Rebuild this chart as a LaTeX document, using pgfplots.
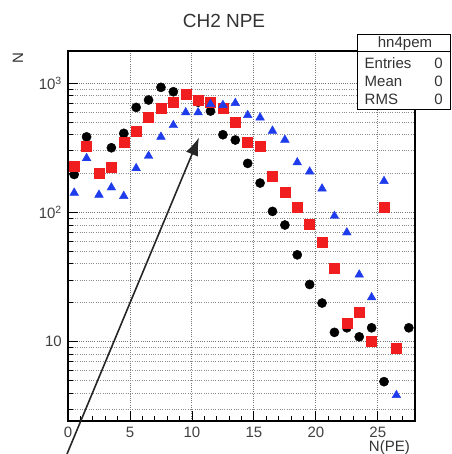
\documentclass[border=0pt]{standalone}
\usepackage{fontspec}
\setmainfont{Liberation Sans}
\usepackage{pgfplots}
\pgfplotsset{compat=1.18}
\usetikzlibrary{arrows.meta}
\definecolor{rred}{RGB}{240,30,30}
\definecolor{rblue}{RGB}{30,60,235}
\definecolor{gridc}{RGB}{120,120,120}
\begin{document}
\fontsize{15}{18}\selectfont
\begin{tikzpicture}[x=1pt,y=1pt]
\useasboundingbox (0,0) rectangle (451,454);
\begin{axis}[
  at={(68pt,33pt)}, anchor=south west,
  scale only axis, width=347pt, height=370pt,
  ymode=log, log basis y=10,
  xmin=0, xmax=28, ymin=2.43, ymax=1780,
  clip=false,
  axis line style={line width=1.1pt, black},
  xtick={0,5,10,15,20,25},
  xticklabels={0,5,10,15,20,25},
  minor xtick={1,2,3,4,6,7,8,9,11,12,13,14,16,17,18,19,21,22,23,24,26,27},
  ytick={10,100,1000},
  yticklabels={10,10\textsuperscript{2},10\textsuperscript{3}},
  minor ytick={3,4,5,6,7,8,9,20,30,40,50,60,70,80,90,200,300,400,500,600,700,800,900},
  xtick pos=left, ytick pos=left,
  tick align=inside,
  major tick length=10pt, minor tick length=5pt,
  tick style={black, line width=0.8pt},
  xmajorgrids, ymajorgrids, yminorgrids,
  major grid style={gridc, line width=0.9pt, dash pattern=on 1pt off 1.2pt},
  minor grid style={gridc!85, line width=0.8pt, dash pattern=on 1pt off 1.3pt},
  xticklabel style={font=\fontsize{15}{15}\selectfont, text=black!75, yshift=-1pt},
  yticklabel style={font=\fontsize{15}{15}\selectfont, text=black!75, xshift=-1pt},
  /pgf/number format/assume math mode=true,
]
\addplot[only marks, mark=*, mark size=4.6pt, mark options={draw=black, fill=black}] coordinates {
(0.5,197) (1.5,385) (3.5,317) (4.5,410) (5.5,651) (6.5,743) (7.5,931) (8.5,861)
(9.5,820) (10.5,715) (11.5,610) (12.5,400) (13.5,364) (14.5,240) (15.5,169)
(16.5,102) (17.5,80) (18.5,47) (19.5,27.7) (20.5,19.9) (21.5,11.8) (22.5,12.8)
(23.5,10.9) (24.5,12.8) (25.5,4.9) (27.5,12.8)
};
\addplot[only marks, mark=square*, mark size=5pt, mark options={draw=rred, fill=rred}] coordinates {
(0.5,229) (1.5,327) (2.5,203) (3.5,223) (4.5,352) (5.5,429) (6.5,545) (7.5,647)
(8.5,713) (9.5,826) (10.5,743) (11.5,713) (12.5,640) (13.5,504) (14.5,349)
(15.5,327) (16.5,191) (17.5,144) (18.5,110) (19.5,80.7) (20.5,58.5) (21.5,37)
(22.5,13.9) (23.5,17) (24.5,10) (25.5,110) (26.5,8.9)
};
\addplot[only marks, mark=triangle*, mark size=5pt, mark options={draw=rblue, fill=rblue}] coordinates {
(0.5,142) (1.5,263) (2.5,137) (3.5,156) (4.5,134) (5.5,220) (6.5,274) (7.5,385)
(8.5,474) (9.5,595) (10.5,595) (11.5,690) (12.5,678) (13.5,703) (14.5,567)
(15.5,543) (16.5,429) (17.5,365) (18.5,244) (19.5,207) (20.5,153) (21.5,94)
(22.5,70) (23.5,33) (24.5,22) (25.5,175) (26.5,3.85)
};
\draw[-{Latex[length=18pt,width=13pt]}, line width=1.6pt, black!85]
  (axis cs:-0.08,1.35) -- (axis cs:10.57,381);
\end{axis}
% title and axis labels
\node[text=black!80] at (224,433) {\fontsize{19}{19}\selectfont CH2 NPE};
\node[rotate=90, text=black!80] at (18,396) {N};
\node[anchor=east, text=black!80] at (415,6) {N(PE)};
% stat box
\draw[line width=1pt, fill=white] (357.7,344.7) rectangle (450.5,419);
\draw[line width=1pt] (357.7,402.5) -- (450.5,402.5);
\node[text=black!80] at (405,410.5) {hn4pem};
\node[anchor=west, text=black!80] at (359.5,390.7) {Entries};
\node[anchor=west, text=black!80] at (359.5,373) {Mean};
\node[anchor=west, text=black!80] at (359.5,354.7) {RMS};
\node[anchor=east, text=black!80] at (448,390.7) {0};
\node[anchor=east, text=black!80] at (448,373) {0};
\node[anchor=east, text=black!80] at (448,354.7) {0};
\end{tikzpicture}
\end{document}
